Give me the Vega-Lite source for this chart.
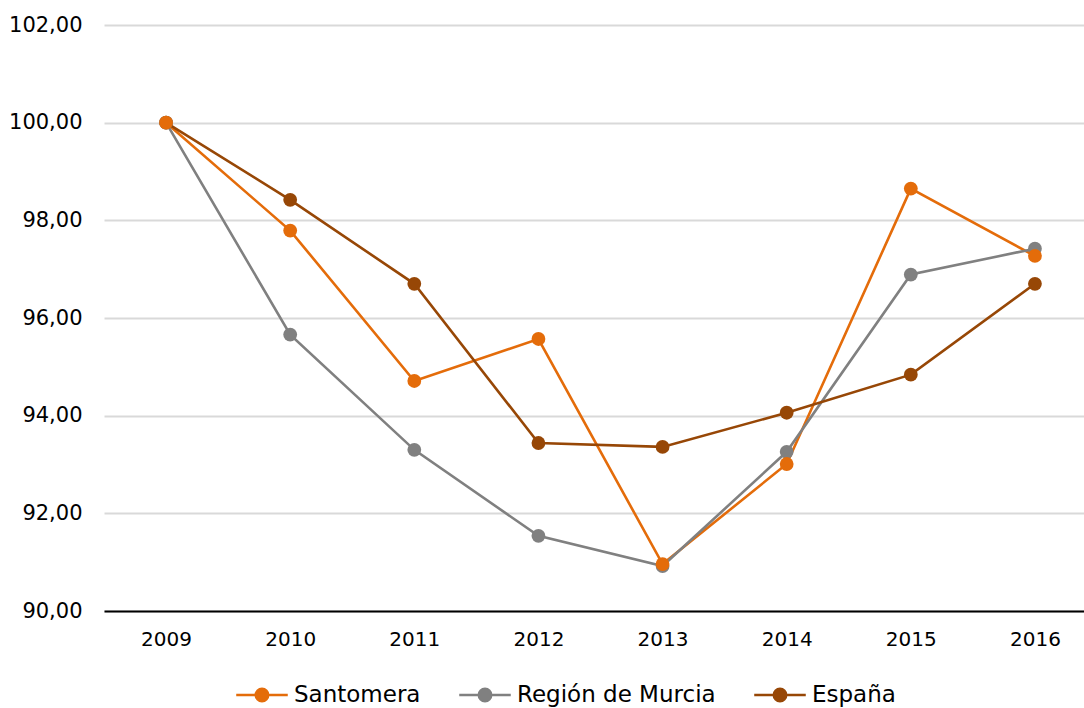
{
  "$schema": "https://vega.github.io/schema/vega-lite/v6.json",
  "autosize": {"type": "none"},
  "padding": {"left": 104, "top": 25, "right": 0, "bottom": 97},
  "width": 993,
  "height": 586,
  "background": "white",
  "config": {
    "locale": {"number": {"decimal": ",", "thousands": ".", "grouping": [3], "currency": ["", " €"]}},
    "font": "DejaVu Sans",
    "view": {"stroke": null}
  },
  "data": {
    "values": [
      {"year": "2009", "serie": "Santomera", "valor": 100.0},
      {"year": "2010", "serie": "Santomera", "valor": 97.79},
      {"year": "2011", "serie": "Santomera", "valor": 94.71},
      {"year": "2012", "serie": "Santomera", "valor": 95.57},
      {"year": "2013", "serie": "Santomera", "valor": 90.96},
      {"year": "2014", "serie": "Santomera", "valor": 93.01},
      {"year": "2015", "serie": "Santomera", "valor": 98.65},
      {"year": "2016", "serie": "Santomera", "valor": 97.27},
      {"year": "2009", "serie": "Región de Murcia", "valor": 100.0},
      {"year": "2010", "serie": "Región de Murcia", "valor": 95.66},
      {"year": "2011", "serie": "Región de Murcia", "valor": 93.30},
      {"year": "2012", "serie": "Región de Murcia", "valor": 91.54},
      {"year": "2013", "serie": "Región de Murcia", "valor": 90.92},
      {"year": "2014", "serie": "Región de Murcia", "valor": 93.26},
      {"year": "2015", "serie": "Región de Murcia", "valor": 96.89},
      {"year": "2016", "serie": "Región de Murcia", "valor": 97.42},
      {"year": "2009", "serie": "España", "valor": 100.0},
      {"year": "2010", "serie": "España", "valor": 98.42},
      {"year": "2011", "serie": "España", "valor": 96.70},
      {"year": "2012", "serie": "España", "valor": 93.44},
      {"year": "2013", "serie": "España", "valor": 93.36},
      {"year": "2014", "serie": "España", "valor": 94.06},
      {"year": "2015", "serie": "España", "valor": 94.84},
      {"year": "2016", "serie": "España", "valor": 96.70}
    ]
  },
  "mark": {"type": "line", "strokeWidth": 2.6, "point": {"size": 190, "filled": true, "opacity": 1}},
  "encoding": {
    "x": {
      "field": "year", "type": "ordinal",
      "scale": {"type": "point", "padding": 0.5},
      "axis": {
        "title": null, "labelAngle": 0, "ticks": false, "grid": false,
        "domainColor": "#000000", "domainWidth": 2,
        "labelFontSize": 20, "labelColor": "#000000", "labelPadding": 18
      }
    },
    "y": {
      "field": "valor", "type": "quantitative",
      "scale": {"domain": [90, 102], "nice": false, "zero": false},
      "axis": {
        "title": null, "values": [90, 92, 94, 96, 98, 100, 102], "format": ".2f",
        "domain": false, "ticks": false, "grid": true, "gridColor": "#D9D9D9", "gridWidth": 2,
        "labelFontSize": 21, "labelColor": "#000000", "labelPadding": 22
      }
    },
    "color": {
      "field": "serie", "type": "nominal",
      "scale": {"domain": ["Santomera", "Región de Murcia", "España"], "range": ["#E46C0A", "#808080", "#974706"]},
      "legend": {
        "title": null, "orient": "none", "direction": "horizontal",
        "legendX": 136, "legendY": 648,
        "symbolType": "M -1.25 0 L 1.25 0 M -0.3 0 A 0.3 0.3 0 1 1 0.3 0 A 0.3 0.3 0 1 1 -0.3 0 Z",
        "symbolSize": 1700, "symbolStrokeWidth": 2.6, "symbolOpacity": 1,
        "labelFontSize": 23, "labelColor": "#000000", "labelLimit": 400,
        "columnPadding": 33, "labelOffset": 10
      }
    },
    "order": {"field": "serie"}
  }
}
